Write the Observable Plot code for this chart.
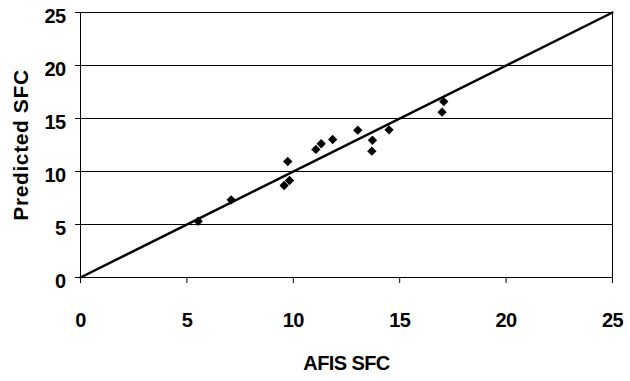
<!DOCTYPE html>
<html>
<head>
<meta charset="utf-8">
<script src="https://cdn.jsdelivr.net/npm/d3@7"></script>
<script src="https://cdn.jsdelivr.net/npm/@observablehq/plot@0.6"></script>
<style>
  html, body { margin: 0; padding: 0; background: #fff; }
  svg { display: block; }
  svg text { letter-spacing: -0.6px; }
  svg g.ytitle text { letter-spacing: 0.6px; }
</style>
</head>
<body>
<div id="chart"></div>
<script>
const afisSFC = [5.53, 7.08, 9.57, 9.82, 9.74, 11.06, 11.31, 11.85, 13.03, 13.72, 13.69, 14.5, 17.07, 16.99];
const predictedSFC = [5.31, 7.33, 8.68, 9.15, 10.94, 12.08, 12.62, 13.02, 13.9, 12.95, 11.92, 13.93, 16.6, 15.6];
const lineX = [0, 25];
const lineY = [0, 25];
const xTicks = [0, 5, 10, 15, 20, 25];
const yTicks = [0, 5, 10, 15, 20, 25];
const gridY = [5, 10, 15, 20];
const xTitle = "AFIS SFC";
const yTitle = "Predicted SFC";

const points = afisSFC.map((x, i) => ({x, y: predictedSFC[i]}));
const diag = lineX.map((x, i) => ({x, y: lineY[i]}));

const chart = Plot.plot({
  width: 630,
  height: 381,
  marginLeft: 80,
  marginRight: 18,
  marginTop: 12,
  marginBottom: 104,
  style: {fontFamily: "'Liberation Sans', Arial, sans-serif", fontSize: "20px", fontWeight: "bold", color: "#000", background: "#fff"},
  x: {domain: [0, 25]},
  y: {domain: [0, 25]},
  marks: [
    Plot.ruleY(gridY, {stroke: "#000", strokeWidth: 1}),
    Plot.frame({stroke: "#000", strokeWidth: 1}),
    Plot.axisX({ticks: xTicks, tickSize: 6, tickPadding: 29, label: null, fontSize: 20, fontWeight: "bold"}),
    Plot.axisY({ticks: yTicks, tickSize: 5, text: null, label: null}),
    Plot.axisY({ticks: yTicks, tickSize: 0, tickPadding: 15, label: null, fontSize: 20, fontWeight: "bold", dy: 4}),
    Plot.line(diag, {x: "x", y: "y", stroke: "#000", strokeWidth: 2.5}),
    Plot.dot(points, {x: "x", y: "y", symbol: "diamond2", r: 4.2, fill: "#000", stroke: "none"}),
    Plot.text([xTitle], {frameAnchor: "bottom", dy: 86, text: d => d, fontSize: 20, fontWeight: "bold", lineAnchor: "middle", textAnchor: "middle"}),
    Plot.text([yTitle], {frameAnchor: "left", dx: -59, rotate: -90, text: d => d, fontSize: 21, fontWeight: "bold", lineAnchor: "middle", textAnchor: "middle", className: "ytitle"})
  ]
});
document.getElementById("chart").appendChild(chart);
</script>
</body>
</html>
